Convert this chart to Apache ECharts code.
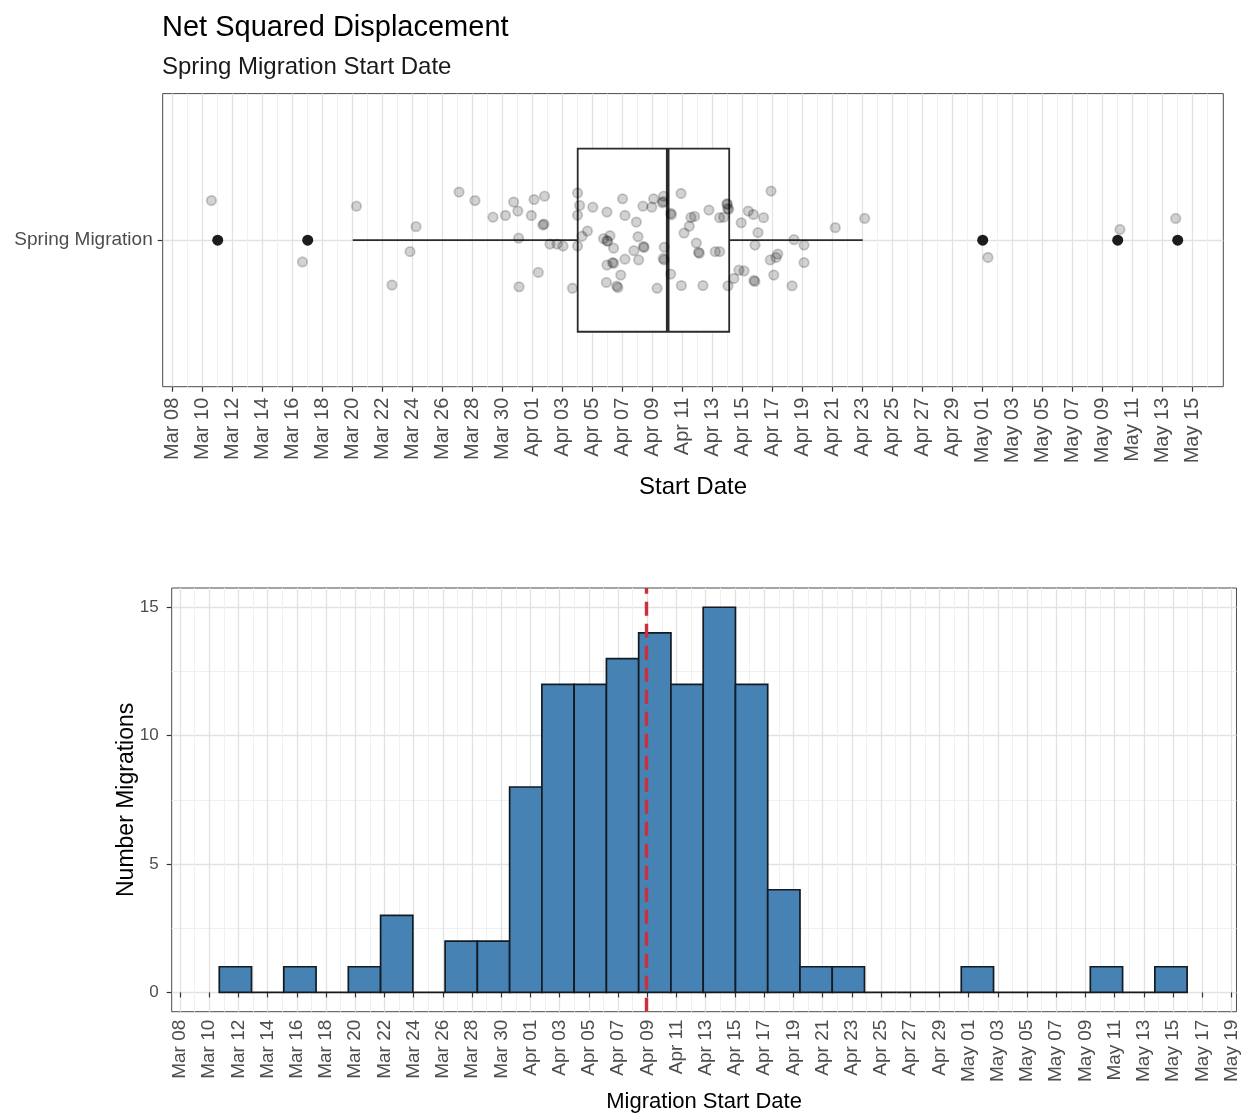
<!DOCTYPE html>
<html>
<head>
<meta charset="utf-8">
<title>Net Squared Displacement</title>
<script src="https://cdn.jsdelivr.net/npm/echarts@6/dist/echarts.min.js"></script>
<style>
  html, body { margin: 0; padding: 0; background: #ffffff; }
  #chart { width: 1241px; height: 1114px; }
</style>
</head>
<body>
<div id="chart"></div>
<script>
// Day numbers count from 1 March: 1 = Mar 01, 32 = Apr 01, 62 = May 01.

// Boxplot summary of spring migration start days: lower whisker, Q1, median, Q3, upper whisker
const boxStats = [20, 35, 41, 45.1, 54];
// Start days flagged as outliers by the boxplot
const outlierDays = [11, 17, 62, 71, 75];
// Individual migrations (start day, jittered vertical position around the category at 1)
const jitterPoints = [
  [10.58, 1.162], [16.65, 0.911], [20.25, 1.139], [22.62, 0.816], [23.82, 0.953],
  [24.22, 1.055], [27.09, 1.197], [28.15, 1.162], [29.35, 1.094], [30.18, 1.101],
  [30.73, 1.156], [31.01, 1.119], [31.06, 1.008], [31.09, 0.809], [31.91, 1.101],
  [32.09, 1.166], [32.79, 1.180], [32.68, 1.062], [32.75, 1.066], [32.37, 0.868],
  [33.15, 0.984], [33.62, 0.984], [34.02, 0.976], [34.65, 0.803], [34.99, 1.193],
  [35.13, 1.142], [34.99, 1.102], [35.65, 1.037], [35.29, 1.016], [34.99, 0.976],
  [36.01, 1.135], [36.95, 1.115], [37.99, 1.169], [38.15, 1.101], [38.91, 1.074],
  [39.35, 1.139], [40.06, 1.169], [39.94, 1.135], [40.73, 1.180], [40.65, 1.153],
  [40.70, 1.158], [36.73, 1.006], [37.15, 1.018], [36.95, 0.998], [37.00, 0.995],
  [37.39, 0.967], [39.02, 1.014], [39.39, 0.974], [38.75, 0.957], [38.15, 0.922],
  [39.06, 0.919], [37.32, 0.908], [37.40, 0.905], [36.95, 0.898], [37.87, 0.857],
  [36.91, 0.827], [37.68, 0.806], [37.60, 0.812], [40.29, 0.803], [40.77, 0.971],
  [40.77, 0.919], [40.70, 0.925], [41.25, 1.104], [41.20, 1.110], [41.89, 1.191],
  [41.20, 0.861], [41.91, 0.814], [42.09, 1.029], [42.44, 1.057], [42.55, 1.093],
  [42.79, 1.097], [43.35, 0.814], [42.91, 0.988], [43.11, 0.946], [43.05, 0.950],
  [43.75, 1.123], [44.17, 0.953], [44.46, 0.953], [44.46, 1.092], [44.73, 1.094],
  [45.07, 1.126], [45.00, 1.130], [44.95, 1.149], [45.02, 0.813], [45.41, 0.843],
  [45.75, 0.877], [46.09, 0.874], [45.90, 1.071], [46.37, 1.119], [46.71, 1.105],
  [47.39, 1.092], [47.02, 1.031], [46.82, 0.980], [46.81, 0.831], [46.75, 0.835],
  [47.89, 1.201], [48.07, 0.857], [47.84, 0.919], [48.34, 0.943], [48.22, 0.929],
  [49.42, 1.002], [50.09, 0.980], [50.09, 0.908], [49.29, 0.813], [52.17, 1.051],
  [54.13, 1.089], [62.35, 0.929], [71.15, 1.044], [74.87, 1.089],
  [39.42, 0.970], [44.98, 1.146]
];

// Histogram: first bin start day, bin width (days) and number of migrations per bin
const histBinStart = 10.69;
const histBinWidth = 2.209;
const histCounts = [1, 0, 1, 0, 1, 3, 0, 2, 2, 8, 12, 12, 13, 14, 12, 15, 12, 4, 1, 1, 0, 0, 0, 1, 0, 0, 0, 1, 0, 1];
// Mean start day, shown as the dashed line
const meanStartDay = 39.95;

// Axis ticks
const topTickDays = [8, 10, 12, 14, 16, 18, 20, 22, 24, 26, 28, 30, 32, 34, 36, 38, 40, 42, 44, 46,
  48, 50, 52, 54, 56, 58, 60, 62, 64, 66, 68, 70, 72, 74, 76];
const topMinorDays = [9, 11, 13, 15, 17, 19, 21, 23, 25, 27, 29, 31, 33, 35, 37, 39, 41, 43, 45, 47,
  49, 51, 53, 55, 57, 59, 61, 63, 65, 67, 69, 71, 73, 75, 77];
const bottomTickDays = [8, 10, 12, 14, 16, 18, 20, 22, 24, 26, 28, 30, 32, 34, 36, 38, 40, 42, 44, 46,
  48, 50, 52, 54, 56, 58, 60, 62, 64, 66, 68, 70, 72, 74, 76, 78, 80];
const bottomMinorDays = [9, 11, 13, 15, 17, 19, 21, 23, 25, 27, 29, 31, 33, 35, 37, 39, 41, 43, 45, 47,
  49, 51, 53, 55, 57, 59, 61, 63, 65, 67, 69, 71, 73, 75, 77, 79];
const countTicks = [0, 5, 10, 15];
const countMinorTicks = [2.5, 7.5, 12.5];

const MONTHS = [['Mar', 31], ['Apr', 30], ['May', 31]];
function dayLabel(n) {
  let d = Math.round(n);
  for (const [name, len] of MONTHS) {
    if (d <= len) return name + ' ' + String(d).padStart(2, '0');
    d -= len;
  }
  return '';
}

const FONT = '"Liberation Sans", Arial, Helvetica, sans-serif';
const AXIS_TEXT = '#4d4d4d';
const MAJOR_GRID = { color: '#e2e2e2', width: 1.3 };
const MINOR_GRID = { color: '#f0f0f0', width: 1 };

function minorAxis(gridIndex, min, max, values) {
  return {
    type: 'value', gridIndex, min, max, show: true,
    axisLine: { show: false },
    axisTick: { show: false, customValues: values },
    axisLabel: { show: false, customValues: values },
    splitLine: { show: true, lineStyle: MINOR_GRID }
  };
}

const chart = echarts.init(document.getElementById('chart'), null, { renderer: 'canvas' });

chart.setOption({
  backgroundColor: '#ffffff',
  animation: false,
  textStyle: { fontFamily: FONT },
  title: {
    text: 'Net Squared Displacement',
    subtext: 'Spring Migration Start Date',
    left: 162, top: 13, padding: 0, itemGap: 13,
    textStyle: { fontFamily: FONT, fontSize: 29, fontWeight: 'normal', color: '#000000' },
    subtextStyle: { fontFamily: FONT, fontSize: 24, color: '#1a1a1a' }
  },
  grid: [
    { left: 162.7, top: 93.6, width: 1060.6, height: 293.1, show: true,
      borderColor: '#4a4a4a', borderWidth: 1, backgroundColor: '#ffffff', containLabel: false },
    { left: 171.7, top: 588, width: 1065, height: 423.7, show: true,
      borderColor: '#4a4a4a', borderWidth: 1, backgroundColor: '#ffffff', containLabel: false }
  ],
  xAxis: [
    {
      type: 'value', gridIndex: 0, min: 7.333, max: 78.04,
      axisLine: { show: false },
      axisTick: { show: true, customValues: topTickDays, length: 5, lineStyle: { color: '#333333', width: 1.2 } },
      axisLabel: { show: true, customValues: topTickDays, rotate: 90, formatter: dayLabel,
        fontFamily: FONT, fontSize: 20, color: AXIS_TEXT, margin: 11 },
      splitLine: { show: true, lineStyle: MAJOR_GRID },
      name: 'Start Date', nameLocation: 'middle', nameGap: 89,
      nameTextStyle: { fontFamily: FONT, fontSize: 24, color: '#000000' }
    },
    minorAxis(0, 7.333, 78.04, topMinorDays),
    {
      type: 'value', gridIndex: 1, min: 7.432, max: 80.34,
      axisLine: { show: false },
      axisTick: { show: true, customValues: bottomTickDays, length: 5, lineStyle: { color: '#333333', width: 1.2 } },
      axisLabel: { show: true, customValues: bottomTickDays, rotate: 90, formatter: dayLabel,
        fontFamily: FONT, fontSize: 19, color: AXIS_TEXT, margin: 8 },
      splitLine: { show: true, lineStyle: MAJOR_GRID },
      name: 'Migration Start Date', nameLocation: 'middle', nameGap: 79,
      nameTextStyle: { fontFamily: FONT, fontSize: 22, color: '#000000' }
    },
    minorAxis(1, 7.432, 80.34, bottomMinorDays)
  ],
  yAxis: [
    {
      type: 'value', gridIndex: 0, min: 0.4, max: 1.6,
      axisLine: { show: false },
      axisTick: { show: true, customValues: [1], length: 5, lineStyle: { color: '#333333', width: 1.2 } },
      axisLabel: { show: true, customValues: [1], formatter: () => 'Spring Migration',
        fontFamily: FONT, fontSize: 19, color: AXIS_TEXT, margin: 10 },
      splitLine: { show: true, lineStyle: MAJOR_GRID }
    },
    {
      type: 'value', gridIndex: 1, min: -0.75, max: 15.75,
      axisLine: { show: false },
      axisTick: { show: true, customValues: countTicks, length: 5, lineStyle: { color: '#333333', width: 1.2 } },
      axisLabel: { show: true, customValues: countTicks, fontFamily: FONT, fontSize: 17, color: AXIS_TEXT, margin: 13 },
      splitLine: { show: true, lineStyle: MAJOR_GRID },
      name: 'Number Migrations', nameLocation: 'middle', nameGap: 34, nameRotate: 90,
      nameMoveOverlap: false,
      nameTextStyle: { fontFamily: FONT, fontSize: 23, color: '#000000' }
    },
    {
      type: 'value', gridIndex: 1, min: -0.75, max: 15.75, show: true,
      axisLine: { show: false },
      axisTick: { show: false, customValues: countMinorTicks },
      axisLabel: { show: false, customValues: countMinorTicks },
      splitLine: { show: true, lineStyle: MINOR_GRID }
    }
  ],
  series: [
    {
      // box and whiskers
      type: 'custom', xAxisIndex: 0, yAxisIndex: 0, z: 2, silent: true,
      data: [boxStats],
      encode: { x: [0, 1, 2, 3, 4] },
      renderItem(params, api) {
        const lo = api.value(0), q1 = api.value(1), med = api.value(2), q3 = api.value(3), hi = api.value(4);
        const yc = 1, half = 0.375;
        const stroke = '#2b2b2b';
        const a = api.coord([lo, yc]), b = api.coord([q1, yc]);
        const c = api.coord([q3, yc]), d = api.coord([hi, yc]);
        const tl = api.coord([q1, yc + half]), br = api.coord([q3, yc - half]);
        const mt = api.coord([med, yc + half]), mb = api.coord([med, yc - half]);
        return {
          type: 'group',
          children: [
            { type: 'line', shape: { x1: a[0], y1: a[1], x2: b[0], y2: b[1] }, style: { stroke, lineWidth: 1.8 } },
            { type: 'line', shape: { x1: c[0], y1: c[1], x2: d[0], y2: d[1] }, style: { stroke, lineWidth: 1.8 } },
            { type: 'rect', shape: { x: tl[0], y: tl[1], width: br[0] - tl[0], height: br[1] - tl[1] },
              style: { fill: '#ffffff', stroke, lineWidth: 1.8 } },
            { type: 'line', shape: { x1: mt[0], y1: mt[1], x2: mb[0], y2: mb[1] }, style: { stroke, lineWidth: 3.6 } }
          ]
        };
      }
    },
    {
      // boxplot outliers
      type: 'scatter', xAxisIndex: 0, yAxisIndex: 0, z: 3, silent: true,
      data: outlierDays.map(d => [d, 1]),
      symbol: 'circle', symbolSize: 11,
      itemStyle: { color: '#1c1c1c', opacity: 1 }
    },
    {
      // individual migrations, jittered
      type: 'scatter', xAxisIndex: 0, yAxisIndex: 0, z: 4, silent: true,
      data: jitterPoints,
      symbol: 'circle', symbolSize: 9.5,
      itemStyle: { color: 'rgba(0,0,0,0.22)', borderColor: 'rgba(0,0,0,0.24)', borderWidth: 1.8 }
    },
    {
      // histogram of start dates
      type: 'custom', xAxisIndex: 2, yAxisIndex: 1, z: 2, silent: true,
      data: histCounts.map((c, i) => [histBinStart + i * histBinWidth, histBinStart + (i + 1) * histBinWidth, c]),
      encode: { x: [0, 1], y: 2 },
      renderItem(params, api) {
        const p0 = api.coord([api.value(0), api.value(2)]);
        const p1 = api.coord([api.value(1), 0]);
        return {
          type: 'rect',
          shape: { x: p0[0], y: p0[1], width: p1[0] - p0[0], height: p1[1] - p0[1] },
          style: { fill: '#4682b4', stroke: '#141a22', lineWidth: 1.7 }
        };
      }
    },
    {
      // mean start date
      type: 'line', xAxisIndex: 2, yAxisIndex: 1, z: 5, silent: true,
      data: [],
      markLine: {
        silent: true, symbol: 'none', animation: false,
        label: { show: false },
        lineStyle: { color: '#cc2f3f', width: 3.4, type: [14, 8] },
        data: [{ xAxis: meanStartDay }]
      }
    }
  ]
});
</script>
</body>
</html>
